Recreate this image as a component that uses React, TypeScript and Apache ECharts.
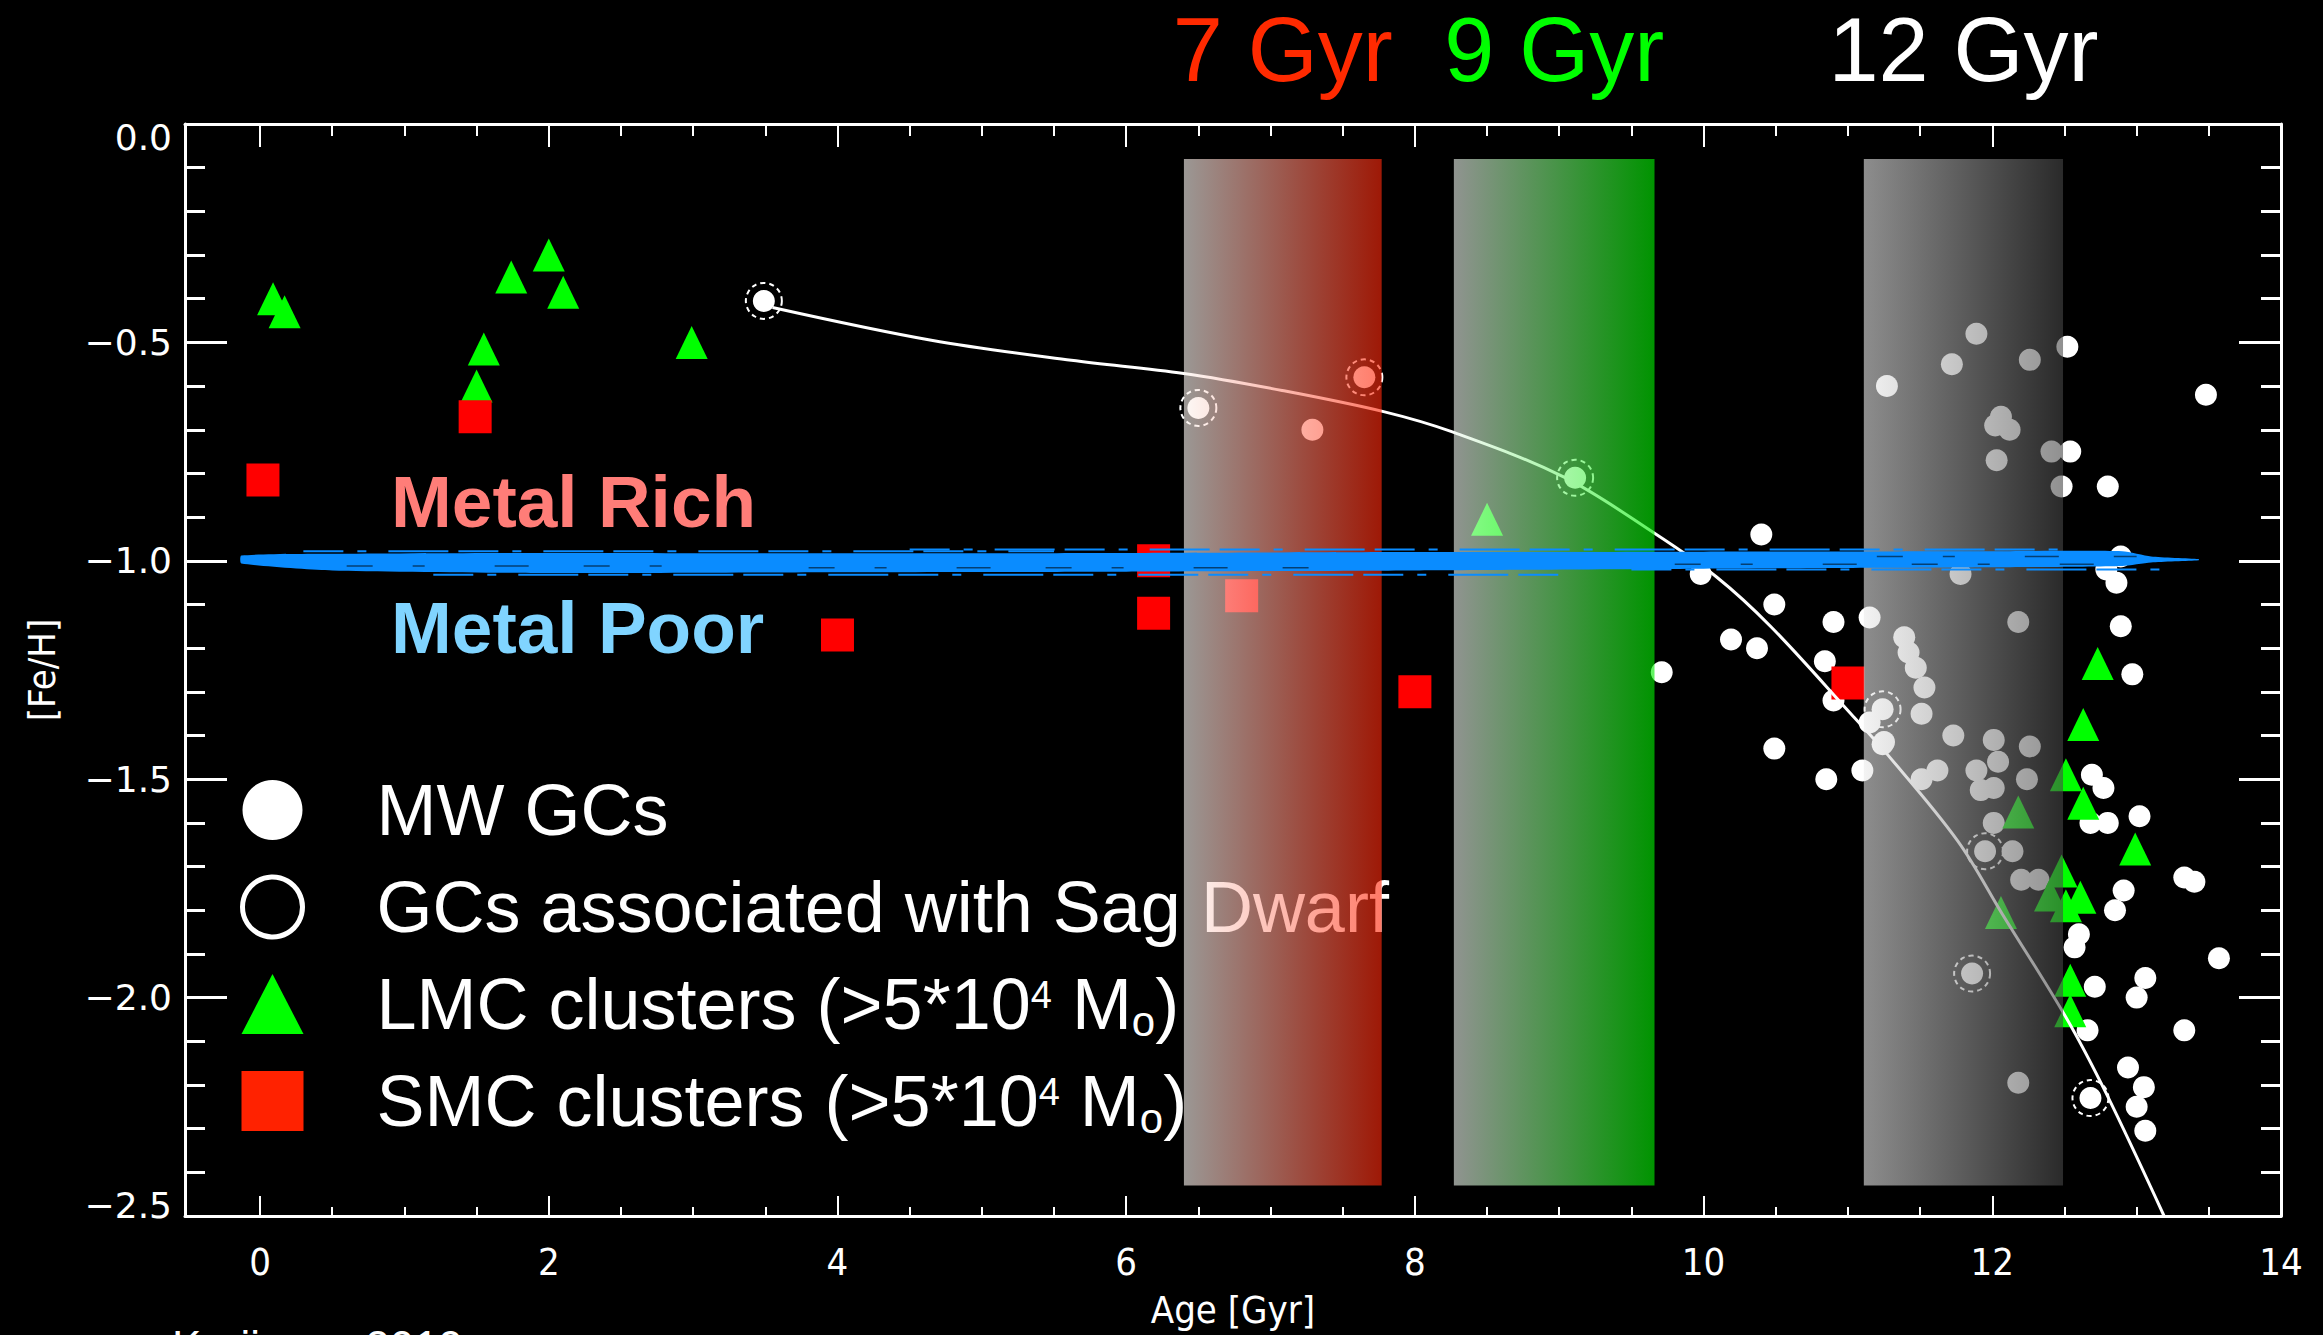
import React, { useEffect, useRef } from 'react';
import * as echarts from 'echarts';

// Milky Way globular clusters: [age (Gyr), [Fe/H]]
const mwGCs: [number, number][] = [
  [7.29, -0.7], [9.98, -1.03], [10.19, -1.18], [9.71, -1.255], [10.4, -0.94],
  [10.49, -1.1], [10.9, -1.14], [11.15, -1.13], [10.37, -1.2], [10.84, -1.23],
  [10.9, -1.32], [11.15, -1.37], [10.49, -1.43], [10.85, -1.5], [11.1, -1.48],
  [11.24, -1.42], [11.27, -0.6], [11.89, -0.48], [11.72, -0.55], [12.26, -0.54],
  [12.52, -0.51], [12.06, -0.67], [12.12, -0.7], [12.02, -0.69], [12.03, -0.77],
  [12.41, -0.75], [12.54, -0.75], [12.48, -0.83], [12.8, -0.83], [13.48, -0.62],
  [12.89, -0.99], [12.79, -1.02], [12.86, -1.05], [11.78, -1.03], [12.89, -1.15],
  [12.18, -1.14], [11.39, -1.175], [11.42, -1.21], [11.47, -1.245], [11.53, -1.29],
  [12.97, -1.26], [11.51, -1.35], [11.25, -1.415], [11.73, -1.4], [12.01, -1.41],
  [12.26, -1.425], [11.51, -1.5], [11.62, -1.48], [11.89, -1.48], [12.04, -1.46],
  [11.92, -1.525], [12.01, -1.52], [12.24, -1.5], [12.01, -1.6], [12.14, -1.665],
  [12.2, -1.73], [12.32, -1.73], [12.18, -2.195], [12.69, -1.49], [12.77, -1.52],
  [13.02, -1.585], [12.68, -1.6], [12.8, -1.6], [13.4, -1.735], [13.33, -1.725],
  [12.91, -1.755], [12.85, -1.8], [12.6, -1.855], [12.57, -1.885], [13.57, -1.91],
  [13.06, -1.955], [12.71, -1.975], [13.0, -2.0], [13.33, -2.075], [12.66, -2.075],
  [12.94, -2.16], [13.05, -2.205], [13.0, -2.25], [13.06, -2.305],
];

// Globular clusters associated with the Sagittarius dwarf
const sagGCs: [number, number][] = [
  [3.49, -0.405], [6.5, -0.65], [7.65, -0.58], [9.11, -0.81],
  [11.24, -1.34], [11.95, -1.665], [11.86, -1.945], [12.68, -2.23],
];

// LMC clusters above 5e4 solar masses
const lmcClusters: [number, number][] = [
  [0.09, -0.4], [0.17, -0.43], [1.74, -0.35], [2.0, -0.3], [2.1, -0.385],
  [1.55, -0.515], [1.5, -0.6], [2.99, -0.5], [8.5, -0.905], [12.73, -1.235],
  [12.63, -1.375], [12.51, -1.49], [12.63, -1.555], [12.18, -1.575], [12.99, -1.66],
  [12.48, -1.71], [12.4, -1.765], [12.51, -1.79], [12.61, -1.77], [12.06, -1.805],
  [12.54, -1.96], [12.54, -2.03],
];

// SMC clusters above 5e4 solar masses
const smcClusters: [number, number][] = [
  [0.02, -0.815], [1.49, -0.67], [6.19, -1.0], [6.19, -1.12],
  [6.8, -1.08], [4.0, -1.17], [8.0, -1.3], [11.0, -1.28],
];

// Age-metallicity track of the Sag-associated clusters
const amrTrack: [number, number][] = [
  [3.55, -0.42], [4.65, -0.495], [5.62, -0.541], [6.4, -0.571], [7.08, -0.61],
  [7.79, -0.659], [8.26, -0.705], [9.03, -0.808], [9.66, -0.937], [10.09, -1.037],
  [10.47, -1.152], [11.02, -1.35], [11.27, -1.442], [11.76, -1.641], [12.07, -1.809],
  [12.51, -2.045], [12.79, -2.22], [13.19, -2.5],
];

// Shaded age windows
const ageBandStart = [6.4, 8.27, 11.11];
const ageBandEnd = [7.77, 9.66, 12.49];
const ageBandLabel = ['7 Gyr', '9 Gyr', '12 Gyr'];
const ageBandTop = -0.08;
const ageBandBottom = -2.43;

// Metal-rich / metal-poor dividing stroke: [age, upper [Fe/H], lower [Fe/H]]
const metalDivide: [number, number, number][] = [
  [-0.13, -0.988, -1.006], [0.5, -0.984, -1.022], [2.0, -0.982, -1.028],
  [4.0, -0.983, -1.026], [6.0, -0.982, -1.025], [8.0, -0.98, -1.022],
  [10.0, -0.979, -1.018], [12.0, -0.978, -1.015], [12.9, -0.978, -1.012],
  [13.1, -0.99, -1.004], [13.43, -0.996, -0.999],
];

// Loose bristle strokes along the edges of the dividing stroke: [from age, to age, [Fe/H]]
const bristles: [number, number, number][] = [
  [0.3, 5.5, -0.978], [1.2, 9.0, -1.032], [4.5, 12.6, -0.974], [9.5, 13.3, -1.02],
];
// Dark gaps inside the stroke: [from age, to age, [Fe/H]]
const strokeGaps: [number, number, number][] = [
  [0.6, 3.2, -1.012], [3.8, 7.5, -1.016], [9.8, 12.8, -1.008], [11.2, 13.0, -0.99],
];

const xMajorTicks = [0, 2, 4, 6, 8, 10, 12, 14];
const xMinorTicks = [
  0.5, 1, 1.5, 2.5, 3, 3.5, 4.5, 5, 5.5, 6.5, 7, 7.5,
  8.5, 9, 9.5, 10.5, 11, 11.5, 12.5, 13, 13.5,
];

const bandFrom = ['rgba(250,245,240,0.62)', 'rgba(240,246,240,0.6)', 'rgba(235,235,235,0.6)'];
const bandTo = ['rgba(255,40,10,0.62)', 'rgba(0,238,0,0.62)', 'rgba(70,70,70,0.6)'];
const bandLabelColor = ['#ff2a00', '#00ff00', '#ffffff'];

const AXIS_FONT = "'DejaVu Sans Condensed', 'DejaVu Sans', sans-serif";
const SANS = "'Liberation Sans', Arial, sans-serif";
const WHITE = '#ffffff';
const STROKE_BLUE = '#0a8cff';

const MW_NAME = 'MW GCs';
const SAG_NAME = 'GCs associated with Sag Dwarf';
const LMC_NAME = 'LMC clusters';
const SMC_NAME = 'SMC clusters';

function tickAxis(position: 'top' | 'bottom', values: number[], length: number, withLine: boolean) {
  return {
    type: 'value',
    position,
    min: -0.52,
    max: 14,
    axisLine: { show: withLine, onZero: false, lineStyle: { color: WHITE, width: 3 } },
    axisTick: { show: true, inside: true, customValues: values, length, lineStyle: { color: WHITE, width: 2 } },
    axisLabel: { show: false },
    splitLine: { show: false },
  };
}

function strokeSeries(name: string, rows: [number, number, number][], color: string, width: number, dash: number[]) {
  return {
    name,
    type: 'custom',
    z: 6,
    silent: true,
    clip: false,
    data: rows,
    renderItem: (_params: any, api: any) => {
      const a = api.coord([api.value(0), api.value(2)]);
      const b = api.coord([api.value(1), api.value(2)]);
      return {
        type: 'line',
        shape: { x1: a[0], y1: a[1], x2: b[0], y2: b[1] },
        style: { stroke: color, lineWidth: width, lineDash: dash },
      };
    },
  };
}

// [Fe/H] tick label: end labels sit a little inside the frame
function fehLabel(v: number) {
  if (v === 0) return '{first|0.0}';
  const s = '\u2212' + Math.abs(v).toFixed(1);
  return v <= -2.5 ? `{last|${s}}` : s;
}

export default function App() {
  const ref = useRef<HTMLDivElement>(null);

  useEffect(() => {
    if (!ref.current) return;
    const chart = echarts.init(ref.current, null, { renderer: 'svg' });

    const bottomMain: any = tickAxis('bottom', xMajorTicks, 20, true);
    bottomMain.axisLabel = {
      show: true,
      customValues: xMajorTicks,
      color: WHITE,
      fontSize: 38,
      fontFamily: AXIS_FONT,
      margin: 27,
    };
    bottomMain.name = 'Age [Gyr]';
    bottomMain.nameLocation = 'middle';
    bottomMain.nameGap = 75;
    bottomMain.nameTextStyle = { color: WHITE, fontSize: 38, fontFamily: AXIS_FONT };

    const yBase = {
      type: 'value',
      min: -2.5,
      max: 0,
      interval: 0.5,
      axisLine: { show: true, onZero: false, lineStyle: { color: WHITE, width: 3 } },
      axisTick: { show: true, inside: true, length: 42, lineStyle: { color: WHITE, width: 3 } },
      minorTick: { show: true, splitNumber: 5, length: 20, lineStyle: { color: WHITE, width: 3 } },
      splitLine: { show: false },
      minorSplitLine: { show: false },
    };

    const scatter = (name: string, data: [number, number][], symbol: string, size: any, style: any) => ({
      name,
      type: 'scatter',
      data,
      symbol,
      symbolSize: size,
      itemStyle: { opacity: 1, ...style },
      emphasis: { disabled: true },
      z: 2,
    });

    const yLabelFont = { color: WHITE, fontSize: 36, fontFamily: "'DejaVu Sans', sans-serif" };

    chart.setOption({
      animation: false,
      backgroundColor: '#000000',
      grid: { left: 185, right: 42, top: 124, bottom: 119, containLabel: false, outerBoundsMode: 'none' },
      xAxis: [
        bottomMain,
        tickAxis('bottom', xMinorTicks, 9, false),
        tickAxis('top', xMajorTicks, 23, true),
        tickAxis('top', xMinorTicks, 12, false),
      ],
      yAxis: [
        {
          ...yBase,
          position: 'left',
          axisLabel: {
            ...yLabelFont,
            margin: 13,
            formatter: fehLabel,
            rich: {
              first: { ...yLabelFont, padding: [26, 0, 0, 0] },
              last: { ...yLabelFont, padding: [0, 0, 22, 0] },
            },
          },
          name: '[Fe/H]',
          nameLocation: 'middle',
          nameGap: 124,
          nameTextStyle: { color: WHITE, fontSize: 38, fontFamily: AXIS_FONT },
        },
        { ...yBase, position: 'right', axisLabel: { show: false } },
      ],
      legend: {
        orient: 'vertical',
        left: 240,
        top: 772,
        z: 1,
        padding: 0,
        itemWidth: 62,
        itemHeight: 60,
        itemGap: 21,
        selectedMode: false,
        textStyle: {
          color: WHITE,
          fontSize: 72,
          fontFamily: SANS,
          lineHeight: 76,
          padding: [0, 0, 0, 68],
          rich: {
            sup: { fontSize: 38, fontFamily: SANS, color: WHITE, verticalAlign: 'top', padding: [10, 0, 0, 0] },
            sub: { fontSize: 42, fontFamily: SANS, color: WHITE, lineHeight: 46, verticalAlign: 'bottom' },
          },
        },
        formatter: (name: string) =>
          name === LMC_NAME || name === SMC_NAME ? `${name} (>5*10{sup|4} M{sub|o})` : name,
        data: [
          { name: MW_NAME, icon: 'circle', itemStyle: { color: WHITE, borderWidth: 0, opacity: 1 } },
          {
            name: SAG_NAME,
            icon: 'circle',
            itemStyle: { color: '#000000', borderColor: WHITE, borderWidth: 5, borderType: 'solid', opacity: 1 },
          },
          { name: LMC_NAME, icon: 'triangle', itemStyle: { color: '#00ff00', borderWidth: 0, opacity: 1 } },
          { name: SMC_NAME, icon: 'rect', itemStyle: { color: '#ff2200', borderWidth: 0, opacity: 1 } },
        ],
      },
      series: [
        scatter(MW_NAME, mwGCs, 'circle', 22, { color: WHITE }),
        scatter('Sag cores', sagGCs, 'circle', 22, { color: WHITE }),
        scatter(SAG_NAME, sagGCs, 'circle', 36, {
          color: 'rgba(0,0,0,0)',
          borderColor: WHITE,
          borderWidth: 2,
          borderType: [5, 4],
        }),
        scatter(LMC_NAME, lmcClusters, 'triangle', [32, 33], { color: '#00ff00' }),
        scatter(SMC_NAME, smcClusters, 'rect', 33, { color: '#ff0000' }),
        {
          name: 'track',
          type: 'line',
          data: amrTrack,
          showSymbol: false,
          smooth: 0.35,
          lineStyle: { color: WHITE, width: 3 },
          z: 3,
          silent: true,
        },
        {
          name: 'age windows',
          type: 'custom',
          z: 5,
          silent: true,
          clip: false,
          data: ageBandStart.map((s, i) => [s, ageBandEnd[i], ageBandTop, ageBandBottom, i]),
          encode: { x: [0, 1], y: [2, 3] },
          renderItem: (_params: any, api: any) => {
            const i = api.value(4);
            const p0 = api.coord([api.value(0), api.value(2)]);
            const p1 = api.coord([api.value(1), api.value(3)]);
            return {
              type: 'group',
              children: [
                {
                  type: 'rect',
                  shape: { x: p0[0], y: p0[1], width: p1[0] - p0[0], height: p1[1] - p0[1] },
                  style: {
                    fill: new echarts.graphic.LinearGradient(0, 0, 1, 0, [
                      { offset: 0, color: bandFrom[i] },
                      { offset: 1, color: bandTo[i] },
                    ]),
                  },
                },
                {
                  type: 'text',
                  style: {
                    text: ageBandLabel[i],
                    x: (p0[0] + p1[0]) / 2,
                    y: 50,
                    fill: bandLabelColor[i],
                    fontSize: 90,
                    lineHeight: 90,
                    fontFamily: SANS,
                    align: 'center',
                    verticalAlign: 'middle',
                  },
                },
              ],
            };
          },
        },
        {
          name: 'metal divide',
          type: 'custom',
          z: 6,
          silent: true,
          clip: false,
          data: [[0]],
          renderItem: (_params: any, api: any) => {
            const upper = metalDivide.map((r) => api.coord([r[0], r[1]]));
            const lower = metalDivide.map((r) => api.coord([r[0], r[2]])).reverse();
            return {
              type: 'polygon',
              shape: { points: upper.concat(lower), smooth: 0.2 },
              style: { fill: STROKE_BLUE },
            };
          },
        },
        strokeSeries('bristles', bristles, STROKE_BLUE, 2, [40, 14, 9, 22, 60, 10]),
        strokeSeries('stroke gaps', strokeGaps, 'rgba(0,0,0,0.55)', 1.5, [26, 40, 12, 70, 34, 55]),
      ],
      graphic: [
        {
          type: 'text',
          x: 391,
          y: 501,
          z: 10,
          style: {
            text: 'Metal Rich',
            fill: '#ff7d78',
            fontSize: 73,
            fontWeight: 'bold',
            fontFamily: SANS,
            textVerticalAlign: 'middle',
            verticalAlign: 'middle',
          },
        },
        {
          type: 'text',
          x: 391,
          y: 627,
          z: 10,
          style: {
            text: 'Metal Poor',
            fill: '#80d4ff',
            fontSize: 73,
            fontWeight: 'bold',
            fontFamily: SANS,
            textVerticalAlign: 'middle',
            verticalAlign: 'middle',
          },
        },
        {
          type: 'text',
          x: 172,
          y: 1346,
          z: 10,
          style: {
            text: 'Kruijssen 2019',
            fill: WHITE,
            fontSize: 44,
            fontFamily: SANS,
            textVerticalAlign: 'middle',
            verticalAlign: 'middle',
          },
        },
      ],
    });

    return () => chart.dispose();
  }, []);

  return (
    <div
      ref={ref}
      style={{ position: 'fixed', left: 0, top: 0, width: 2323, height: 1335, background: '#000000' }}
    />
  );
}
